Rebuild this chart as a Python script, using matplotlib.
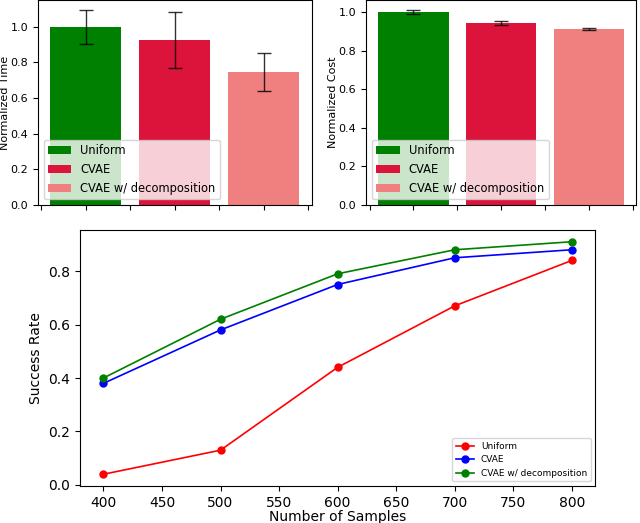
import numpy as np
import matplotlib
matplotlib.use("Agg")
import matplotlib.pyplot as plt

methods = ["Uniform", "CVAE", "CVAE w/ decomposition"]
bar_colors = ["green", "crimson", "lightcoral"]

time_mean = [1.0, 0.925, 0.745]
time_err = [0.095, 0.155, 0.105]
cost_mean = [1.0, 0.943, 0.913]
cost_err = [0.012, 0.012, 0.006]

samples = [400, 500, 600, 700, 800]
rate_uniform = [0.04, 0.13, 0.44, 0.67, 0.84]
rate_cvae = [0.38, 0.58, 0.75, 0.85, 0.88]
rate_decomp = [0.40, 0.62, 0.79, 0.88, 0.91]

fig = plt.figure(figsize=(6.4, 5.23), dpi=100)

ax1 = fig.add_axes([0.059, 0.608, 0.428, 0.392])
ax2 = fig.add_axes([0.572, 0.608, 0.422, 0.392])
ax3 = fig.add_axes([0.125, 0.071, 0.805, 0.489])


def bar_panel(ax, means, errs, ylabel):
    x = np.arange(len(methods))
    for i in range(len(methods)):
        ax.bar(x[i], means[i], yerr=errs[i], color=bar_colors[i], width=0.8,
               capsize=5, error_kw=dict(ecolor="black", elinewidth=1, alpha=0.8),
               label=methods[i])
    ax.set_xticks(np.arange(-0.5, 3.0, 0.5))
    ax.set_xticklabels([])
    ax.set_ylabel(ylabel, fontsize=8, labelpad=0.5)
    ax.tick_params(axis="y", labelsize=8)
    ax.legend(loc="lower left", fontsize=8.3)


bar_panel(ax1, time_mean, time_err, "Normalized Time")
bar_panel(ax2, cost_mean, cost_err, "Normalized Cost")

ax3.plot(samples, rate_uniform, "o-", color="red", lw=1.2, ms=5, label="Uniform")
ax3.plot(samples, rate_cvae, "o-", color="blue", lw=1.2, ms=5, label="CVAE")
ax3.plot(samples, rate_decomp, "o-", color="green", lw=1.2, ms=5,
         label="CVAE w/ decomposition")
ax3.set_xlabel("Number of Samples", fontsize=10, labelpad=0)
ax3.set_ylabel("Success Rate", fontsize=10)
ax3.set_yticks([0.0, 0.2, 0.4, 0.6, 0.8])
ax3.tick_params(labelsize=10)
ax3.legend(loc="lower right", fontsize=6.5)

fig.savefig("out.png", dpi=100)
